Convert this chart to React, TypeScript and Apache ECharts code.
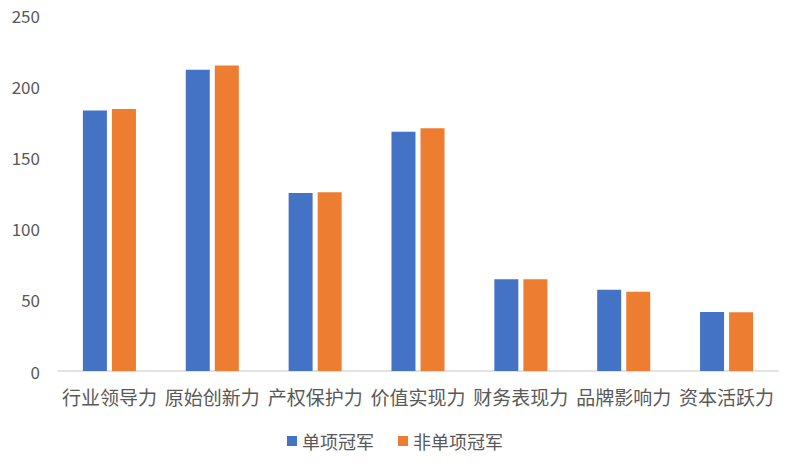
import { useEffect, useRef } from 'react';
import * as echarts from 'echarts';

const categories = ['行业领导力', '原始创新力', '产权保护力', '价值实现力', '财务表现力', '品牌影响力', '资本活跃力'];
const champion = [183, 211.5, 125, 168, 64.5, 57, 41.5];
const nonChampion = [184, 214.5, 125.5, 170.5, 64.5, 55.6, 41.2];

const FONT = '"Noto Sans CJK SC", "Noto Sans", sans-serif';

export default function App() {
  const ref = useRef<HTMLDivElement>(null);

  useEffect(() => {
    if (!ref.current) return;
    const chart = echarts.init(ref.current, undefined, { renderer: 'svg' });
    chart.setOption({
      animation: false,
      textStyle: { fontFamily: FONT },
      grid: { left: 58, right: 12, top: 15, bottom: 96 },
      legend: {
        bottom: 12,
        left: 'center',
        itemWidth: 10,
        itemHeight: 10,
        itemGap: 24,
        icon: 'rect',
        textStyle: { fontSize: 18, color: '#595959', fontFamily: FONT },
        data: ['单项冠军', '非单项冠军'],
      },
      xAxis: {
        type: 'category',
        data: categories,
        axisLine: { lineStyle: { color: '#d9d9d9', width: 1.5 } },
        axisTick: { show: false },
        axisLabel: { fontSize: 19, color: '#595959', margin: 16, interval: 0, fontFamily: FONT },
      },
      yAxis: {
        type: 'value',
        min: 0,
        max: 250,
        interval: 50,
        splitLine: { show: false },
        axisLine: { show: false },
        axisTick: { show: false },
        axisLabel: { fontSize: 17, color: '#595959', margin: 18, fontFamily: FONT },
      },
      series: [
        {
          name: '单项冠军',
          type: 'bar',
          data: champion,
          barWidth: 24,
          barGap: '21%',
          itemStyle: { color: '#4472C4' },
        },
        {
          name: '非单项冠军',
          type: 'bar',
          data: nonChampion,
          barWidth: 24,
          itemStyle: { color: '#ED7D31' },
        },
      ],
    });
    return () => chart.dispose();
  }, []);

  return <div ref={ref} style={{ position: 'absolute', left: 0, top: 0, width: 790, height: 467, background: '#fff' }} />;
}
